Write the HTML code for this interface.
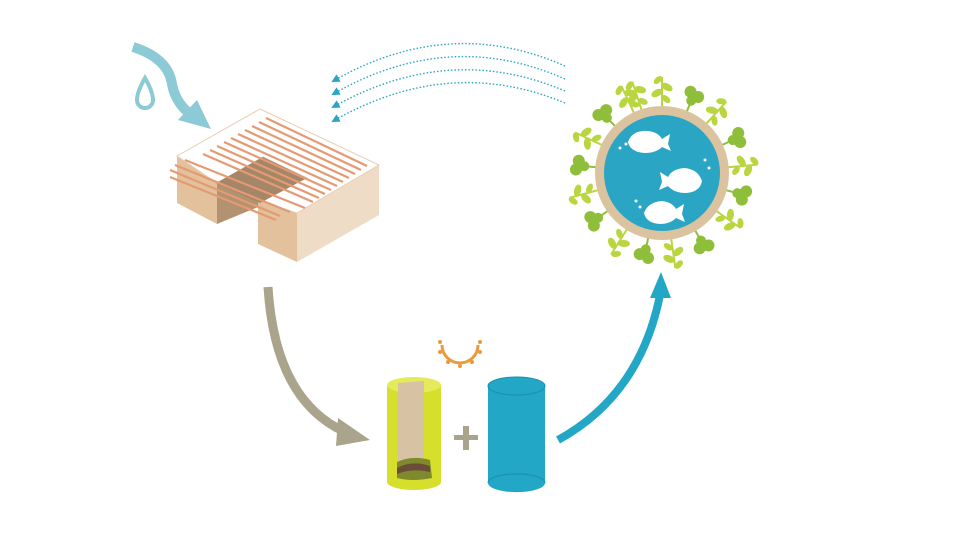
<!DOCTYPE html>
<html><head><style>body{margin:0;background:#fff}svg{display:block}</style></head><body>
<svg width="960" height="540" viewBox="0 0 960 540" xmlns="http://www.w3.org/2000/svg">
<defs>
<marker id="ab" markerWidth="6" markerHeight="6" refX="3" refY="3" orient="auto"><path d="M0,0L6,3L0,6z" fill="#2aa6c4"/></marker>
<g id="sp" stroke="#b9d640" stroke-width="2" fill="#b9d640">
<line x1="0" y1="-66" x2="0" y2="-96"/>
<ellipse cx="-5" cy="-80" rx="5" ry="2.5" transform="rotate(-30 -5 -80)"/>
<ellipse cx="5" cy="-86" rx="5" ry="2.5" transform="rotate(30 5 -86)"/>
<ellipse cx="-4" cy="-93" rx="4" ry="2" transform="rotate(-40 -4 -93)"/>
<ellipse cx="4" cy="-74" rx="4" ry="2" transform="rotate(40 4 -74)"/>
</g>
<g id="sp2" fill="#8fbf3a" stroke="#8fbf3a" stroke-width="2">
<line x1="0" y1="-66" x2="0" y2="-84"/>
<circle cx="-4" cy="-86" r="5"/><circle cx="5" cy="-84" r="5"/><circle cx="0" cy="-78" r="4"/>
</g>
</defs>
<!-- water arrow -->
<path d="M133,47 Q168,58 172,84 Q176,106 196,118" fill="none" stroke="#8ccad6" stroke-width="10"/>
<polygon points="178,120 211,129 197,100" fill="#8ccad6"/>
<path d="M145,78 Q137,92 137,100 A8,8 0 0 0 153,100 Q153,92 145,78z" fill="none" stroke="#8ccad6" stroke-width="4"/>
<!-- building -->
<polygon points="177,156 217,183 217,224 177,203" fill="#e2c19c"/>
<polygon points="217,183 263,157 263,205 217,224" fill="#b39272"/>
<polygon points="258,200 297,213 297,262 258,244" fill="#e2c19c"/>
<polygon points="297,213 379,165 379,215 297,262" fill="#efdcc6"/>
<polygon points="260,109 379,165 297,213 258,200 307,178 263,157 217,183 177,156" fill="#fff" stroke="#e8cdb2" stroke-width="1"/>
<polygon points="216,183 263,157 307,178 260,203" fill="#a58668"/>
<g stroke="#e49a72" stroke-width="2.2">
<line x1="266" y1="118" x2="367" y2="166"/><line x1="259" y1="122" x2="361" y2="170"/>
<line x1="252" y1="126" x2="355" y2="174"/><line x1="245" y1="130" x2="349" y2="178"/>
<line x1="238" y1="134" x2="343" y2="182"/><line x1="231" y1="138" x2="337" y2="186"/>
<line x1="224" y1="142" x2="331" y2="190"/><line x1="217" y1="146" x2="325" y2="194"/>
<line x1="210" y1="150" x2="319" y2="198"/><line x1="203" y1="154" x2="313" y2="202"/>
<line x1="185" y1="160" x2="305" y2="208"/><line x1="175" y1="165" x2="290" y2="212"/>
<line x1="170" y1="170" x2="280" y2="216"/><line x1="170" y1="177" x2="276" y2="220"/>
</g>
<!-- dotted arcs -->
<g fill="none" stroke="#2aa6c4" stroke-width="1.4" stroke-dasharray="1.5,2" marker-end="url(#ab)">
<path d="M565,66 Q450,15 335,80"/><path d="M565,79 Q450,28 335,93"/>
<path d="M565,91 Q450,42 335,106"/><path d="M565,103 Q450,55 335,120"/>
</g>
<!-- plants -->
<g transform="translate(662,173)">
<use href="#sp" transform="rotate(0)"/><use href="#sp2" transform="rotate(22)"/>
<use href="#sp" transform="rotate(42)"/><use href="#sp2" transform="rotate(65)"/>
<use href="#sp" transform="rotate(85)"/><use href="#sp2" transform="rotate(105)"/>
<use href="#sp" transform="rotate(125)"/><use href="#sp2" transform="rotate(150)"/>
<use href="#sp" transform="rotate(172)"/><use href="#sp2" transform="rotate(192)"/>
<use href="#sp" transform="rotate(212)"/><use href="#sp2" transform="rotate(235)"/>
<use href="#sp" transform="rotate(255)"/><use href="#sp2" transform="rotate(275)"/>
<use href="#sp" transform="rotate(295)"/><use href="#sp2" transform="rotate(315)"/>
<use href="#sp" transform="rotate(335)"/><use href="#sp" transform="rotate(-18)"/>
</g>
<!-- pond -->
<circle cx="662" cy="173" r="67" fill="#dcc3a0"/>
<circle cx="662" cy="173" r="58" fill="#2aa6c4"/>
<g fill="#fff">
<path d="M628,142 Q632,130 648,131 Q658,132 662,139 L670,134 L668,144 L671,151 L662,147 Q656,153 645,153 Q630,152 628,142z"/>
<path d="M702,181 Q698,169 684,168 Q672,169 668,177 L660,172 L662,182 L659,190 L668,186 Q674,193 686,193 Q700,192 702,181z"/>
<path d="M644,213 Q648,202 662,201 Q672,202 676,209 L684,204 L682,214 L685,222 L676,218 Q670,224 660,224 Q646,223 644,213z"/>
<circle cx="620" cy="148" r="1.5"/><circle cx="626" cy="144" r="1.5"/><circle cx="705" cy="160" r="1.5"/><circle cx="709" cy="168" r="1.5"/><circle cx="636" cy="201" r="1.5"/><circle cx="640" cy="207" r="1.5"/>
</g>
<!-- gray arrow -->
<path d="M268,287 Q275,400 345,432" fill="none" stroke="#aba48c" stroke-width="9"/>
<polygon points="338,418 370,440 336,446" fill="#aba48c"/>
<!-- sun -->
<path d="M442,345 A18,18 0 0 0 478,345" fill="none" stroke="#eb9a3c" stroke-width="3"/>
<g fill="#eb9a3c"><circle cx="440" cy="352" r="2"/><circle cx="448" cy="362" r="2"/><circle cx="460" cy="366" r="2"/><circle cx="472" cy="362" r="2"/><circle cx="480" cy="352" r="2"/><circle cx="440" cy="342" r="2"/><circle cx="480" cy="342" r="2"/></g>
<!-- yellow cylinder -->
<path d="M387,385 L387,482 A27,8 0 0 0 441,482 L441,385z" fill="#d6df2c"/>
<ellipse cx="414" cy="385" rx="27" ry="8" fill="#e4eb5a"/>
<polygon points="398,383 424,381 424,470 398,472" fill="#d8c2a4"/>
<path d="M397,462 Q412,455 430,460 L432,478 Q412,482 397,478z" fill="#7f8a2c"/>
<path d="M397,468 Q412,460 430,466 L430,472 Q412,468 397,474z" fill="#6a4c38"/>
<!-- plus -->
<rect x="454" y="435" width="24" height="5" fill="#aba48c"/><rect x="463" y="426" width="6" height="24" fill="#aba48c"/>
<!-- blue cylinder -->
<path d="M488,386 L488,483 A28,9 0 0 0 545,483 L545,386z" fill="#22a7c6"/>
<ellipse cx="516.5" cy="386" rx="28.5" ry="9" fill="#22a7c6" stroke="#1a8fac"/>
<path d="M488,483 A28,9 0 0 1 545,483" fill="none" stroke="#1a8fac"/>
<!-- blue arrow -->
<path d="M558,440 Q640,395 660,295" fill="none" stroke="#22a7c6" stroke-width="8"/>
<polygon points="650,298 661,272 671,298" fill="#22a7c6"/>
</svg>
</body></html>
